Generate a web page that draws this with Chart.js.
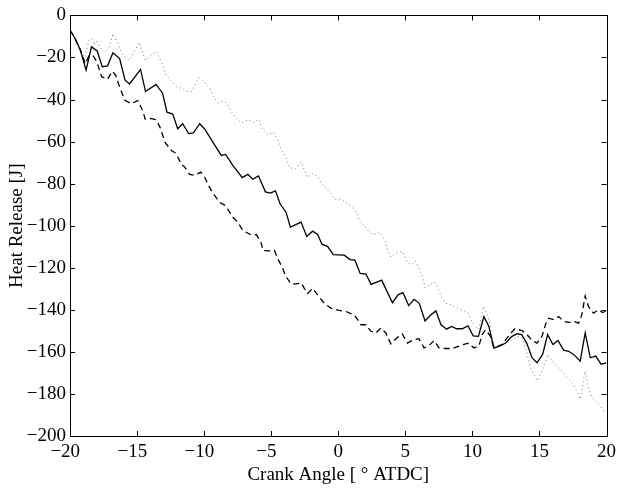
<!DOCTYPE html>
<html>
<head>
<meta charset="utf-8">
<script src="https://cdn.jsdelivr.net/npm/chart.js@4.4.0/dist/chart.umd.min.js"></script>
<style>
  html, body { margin: 0; padding: 0; background: #fff; }
  #wrap { width: 621px; height: 488px; }
</style>
</head>
<body>
<div id="wrap"><canvas id="c" width="621" height="488"></canvas></div>
<script>
// ---- Data ----
const solidX = [-20,-19.65,-19.23,-18.8,-18.4,-17.97,-17.6,-17.2,-16.8,-16.3,-15.9,-15.56,-14.74,-14.37,-13.58,-13.1,-12.77,-12.34,-11.97,-11.6,-11.15,-10.8,-10.33,-9.96,-9.35,-8.72,-8.4,-7.86,-7.16,-6.74,-6.37,-5.95,-5.43,-5.06,-4.68,-4.33,-3.89,-3.57,-2.77,-2.35,-1.91,-1.54,-1.2,-0.8,-0.37,0.45,0.87,1.24,1.64,2.06,2.45,3.24,3.67,4.04,4.46,4.82,5.25,5.65,6.04,6.47,6.87,7.28,7.66,8.08,8.45,8.83,9.24,9.67,10.06,10.45,10.86,11.23,11.6,12.1,12.47,12.96,13.33,13.68,14.05,14.45,14.82,15.24,15.61,16.01,16.38,16.8,17.17,17.55,18.04,18.41,18.79,19.2,19.6,20];
const solidY = [-7,-10.6,-16.5,-26,-15,-16.9,-24.4,-24,-17.8,-20.5,-30.7,-32.6,-25.7,-36.2,-32.8,-37,-46,-46.9,-53.9,-51.5,-56.2,-55.9,-51.5,-54,-60.3,-66.6,-66.1,-71.3,-77.1,-75.6,-77.9,-76.3,-83.9,-84.5,-83.4,-89.7,-93.6,-100.7,-98.3,-105.1,-102.6,-104.2,-108.9,-109.8,-113.8,-114,-116.1,-116.4,-122.7,-123,-127.9,-125.9,-131.7,-136.6,-132.9,-131.8,-138,-135,-136.9,-145.3,-142.6,-140.5,-147.1,-149.2,-147.9,-149,-149,-147.6,-152.4,-152.6,-143.2,-147.9,-158.2,-157,-155.8,-152.6,-151.4,-151.8,-155.8,-162.8,-165.2,-161.2,-151.8,-156.5,-154.6,-159.2,-159.7,-161.2,-164.4,-151,-162.8,-162,-165.9,-165.2];

const dashedX = [-20,-19.65,-19.23,-18.85,-18.6,-18.3,-18.0,-17.64,-17.2,-16.85,-16.6,-16.4,-15.93,-15.44,-14.94,-14.55,-14.4,-14.0,-13.58,-13.3,-12.9,-12.4,-12.1,-11.7,-11.47,-11.08,-10.7,-10.25,-9.95,-9.72,-9.35,-9.1,-8.85,-8.48,-8.2,-7.86,-7.49,-7.11,-6.49,-6.1,-5.75,-5.6,-5.13,-4.76,-4.51,-4.2,-3.89,-3.52,-3.15,-2.75,-2.53,-2.28,-1.91,-1.54,-1.04,-0.55,0.07,0.57,1.19,1.44,1.69,2.06,2.43,2.8,3.18,3.55,3.92,4.42,4.78,5.15,5.65,6.02,6.4,6.77,7.14,7.51,8.0,8.5,9.0,9.37,9.74,10.11,10.48,10.73,10.98,11.35,11.6,12.2,12.84,13.2,13.7,14.08,14.45,14.82,15.19,15.49,15.69,16.06,16.43,16.8,17.17,17.55,17.92,18.16,18.41,18.66,19.03,19.4,19.7,20];
const dashedY = [-7,-10.6,-16.5,-23,-19.3,-19,-22,-29.2,-30.4,-26.6,-28.4,-32.3,-40.2,-42,-40.5,-45.7,-49.3,-49,-49.6,-53,-60.5,-64.5,-65.5,-70.8,-71.9,-75.6,-76,-74.5,-77,-80.3,-84.5,-86.6,-88.9,-90.2,-92.5,-96,-98.3,-102.3,-104.4,-104.3,-108.2,-111.8,-112,-111.7,-115.7,-119.5,-124.3,-127.7,-127.7,-127.3,-129.8,-132.2,-129.8,-132.9,-136.9,-139.2,-140.3,-140.8,-142.4,-144.7,-147.1,-147.1,-150.2,-151,-148.7,-151,-156.2,-153.1,-151.5,-155.8,-154.2,-153.7,-158.1,-157,-154.6,-158.1,-158.4,-158.4,-157.3,-156.4,-155.8,-158.1,-157.3,-151.8,-149.5,-152.6,-158.1,-156.5,-151.3,-148.8,-149.9,-151.8,-154.6,-155.8,-152.6,-146.3,-144,-144.7,-143.2,-145.5,-146,-145.5,-146.3,-142.4,-133.4,-138.4,-141.6,-140,-141.3,-140.5];

const dottedX = [-20,-19.65,-19.23,-18.9,-18.6,-18.4,-18.2,-18.04,-17.79,-17.42,-17.05,-16.8,-16.43,-16.06,-15.56,-15.2,-14.82,-14.4,-13.95,-13.55,-13.2,-12.84,-12.45,-12.05,-11.67,-11.3,-10.95,-10.39,-9.96,-9.59,-9.29,-8.97,-8.65,-8.35,-7.98,-7.61,-7.23,-6.74,-6.35,-5.95,-5.63,-5.26,-4.83,-4.51,-4.26,-3.89,-3.64,-3.2,-2.77,-2.5,-2.28,-1.91,-1.55,-1.2,-0.85,-0.5,-0.3,0.07,0.4,0.75,1.1,1.4,1.56,1.95,2.35,2.75,3.12,3.5,3.7,3.92,4.35,4.78,5.1,5.4,5.75,6.05,6.3,6.47,6.85,7.2,7.45,7.7,8.0,8.4,8.87,9.3,9.65,10.05,10.48,10.83,11.2,11.47,11.72,12.21,12.84,13.33,13.7,14.0,14.33,14.65,14.82,15.19,15.64,15.93,16.3,16.68,17.05,17.42,17.79,18.04,18.41,18.66,18.91,19.16,19.53,19.9];
const dottedY = [-7,-10.6,-16,-20,-12,-11,-14,-12,-15,-17.4,-15,-8.8,-13.4,-19,-21.3,-17,-12.8,-21.3,-19,-17.2,-22,-28.4,-31,-34,-34.7,-36,-36.2,-29.6,-32,-34.7,-38.6,-41.7,-41,-41.4,-45.7,-48.8,-51.2,-49.6,-51,-49.3,-54.6,-56.7,-55.6,-59,-63.8,-67.7,-72.4,-73,-69.7,-74,-77.1,-75.2,-76.5,-80.3,-82.6,-85,-87.4,-87.6,-88,-89.7,-91.5,-94,-97.8,-100,-103.5,-104,-103.2,-107.5,-111.7,-114.9,-112.8,-112.2,-116.5,-118.8,-117,-120.5,-125,-129.5,-128,-126.9,-130,-134,-136.9,-137.6,-139.2,-140.3,-141.2,-146.5,-149.2,-138.4,-144,-153,-158.1,-156.5,-155,-152.6,-153.3,-158.9,-167.5,-171.5,-173.8,-169.1,-161.2,-164.4,-166.7,-169.1,-172.3,-174.6,-178.5,-182.5,-169.1,-177,-181.7,-183.3,-185.6,-189.5];

const xTicks = [-20,-15,-10,-5,0,5,10,15,20];
const yTicks = [-200,-180,-160,-140,-120,-100,-80,-60,-40,-20,0];
const xTitle = 'Crank Angle [ \u00B0 ATDC]';
const yTitle = 'Heat Release [J]';

function pts(xs, ys) { return xs.map((x, i) => ({ x: x, y: ys[i] })); }
const fmt = v => String(v).replace('-', '\u2212');
// x labels: digits centred on the tick, minus sign hanging to the left
const fmtX = v => v < 0 ? fmt(v) + '\u2007' : fmt(v);

const FONT = 'Liberation Serif, Times New Roman, serif';
const FS = 19;

// Box + inward ticks on all four sides (MATLAB style), positioned through the scales
const boxPlugin = {
  id: 'box',
  afterDraw(chart) {
    const { ctx, chartArea: a, scales } = chart;
    const xs = scales.x, ys = scales.y;
    const L = 5;
    ctx.save();
    ctx.strokeStyle = '#000';
    ctx.lineWidth = 1;
    ctx.beginPath();
    xTicks.forEach(v => {
      const p = Math.round(xs.getPixelForValue(v)) + 0.5;
      ctx.moveTo(p, a.bottom); ctx.lineTo(p, a.bottom - L);
      ctx.moveTo(p, a.top); ctx.lineTo(p, a.top + L);
    });
    yTicks.forEach(v => {
      const p = Math.round(ys.getPixelForValue(v)) + 0.5;
      ctx.moveTo(a.left, p); ctx.lineTo(a.left + L, p);
      ctx.moveTo(a.right, p); ctx.lineTo(a.right - L, p);
    });
    ctx.stroke();
    ctx.strokeRect(Math.round(a.left) + 0.5, Math.round(a.top) + 0.5,
                   Math.round(a.right - a.left), Math.round(a.bottom - a.top));
    ctx.restore();
  }
};

new Chart(document.getElementById('c'), {
  type: 'scatter',
  data: {
    datasets: [
      { data: pts(solidX, solidY), showLine: true, borderColor: '#000', borderWidth: 1.3,
        pointRadius: 0, tension: 0 },
      { data: pts(dashedX, dashedY), showLine: true, borderColor: '#000', borderWidth: 1.3,
        borderDash: [6, 4], pointRadius: 0, tension: 0 },
      { data: pts(dottedX, dottedY), showLine: true, borderColor: '#777', borderWidth: 1,
        borderDash: [1, 3], pointRadius: 0, tension: 0 }
    ]
  },
  options: {
    responsive: false,
    animation: false,
    events: [],
    layout: { padding: { top: 11, right: 13, left: 0, bottom: 0 } },
    plugins: { legend: { display: false }, tooltip: { enabled: false } },
    scales: {
      x: {
        type: 'linear', min: -20, max: 20,
        afterBuildTicks: s => { s.ticks = xTicks.map(v => ({ value: v })); },
        afterFit: s => { s.height = 52; },
        grid: { display: false, drawTicks: false },
        border: { display: false },
        ticks: { color: '#000', padding: 5, maxRotation: 0, font: { family: FONT, size: FS },
                 callback: v => fmtX(v) },
        title: { display: true, text: xTitle, color: '#000',
                 font: { family: FONT, size: FS }, padding: { top: 0, bottom: 2 } }
      },
      y: {
        type: 'linear', min: -200, max: 0,
        afterBuildTicks: s => { s.ticks = yTicks.map(v => ({ value: v })); },
        afterFit: s => { s.width = 70; },
        grid: { display: false, drawTicks: false },
        border: { display: false },
        ticks: { color: '#000', padding: 4, font: { family: FONT, size: FS },
                 callback: v => fmt(v) },
        title: { display: true, text: yTitle, color: '#000',
                 font: { family: FONT, size: FS }, padding: { top: 6, bottom: 0 } }
      }
    }
  },
  plugins: [boxPlugin]
});
</script>
</body>
</html>
